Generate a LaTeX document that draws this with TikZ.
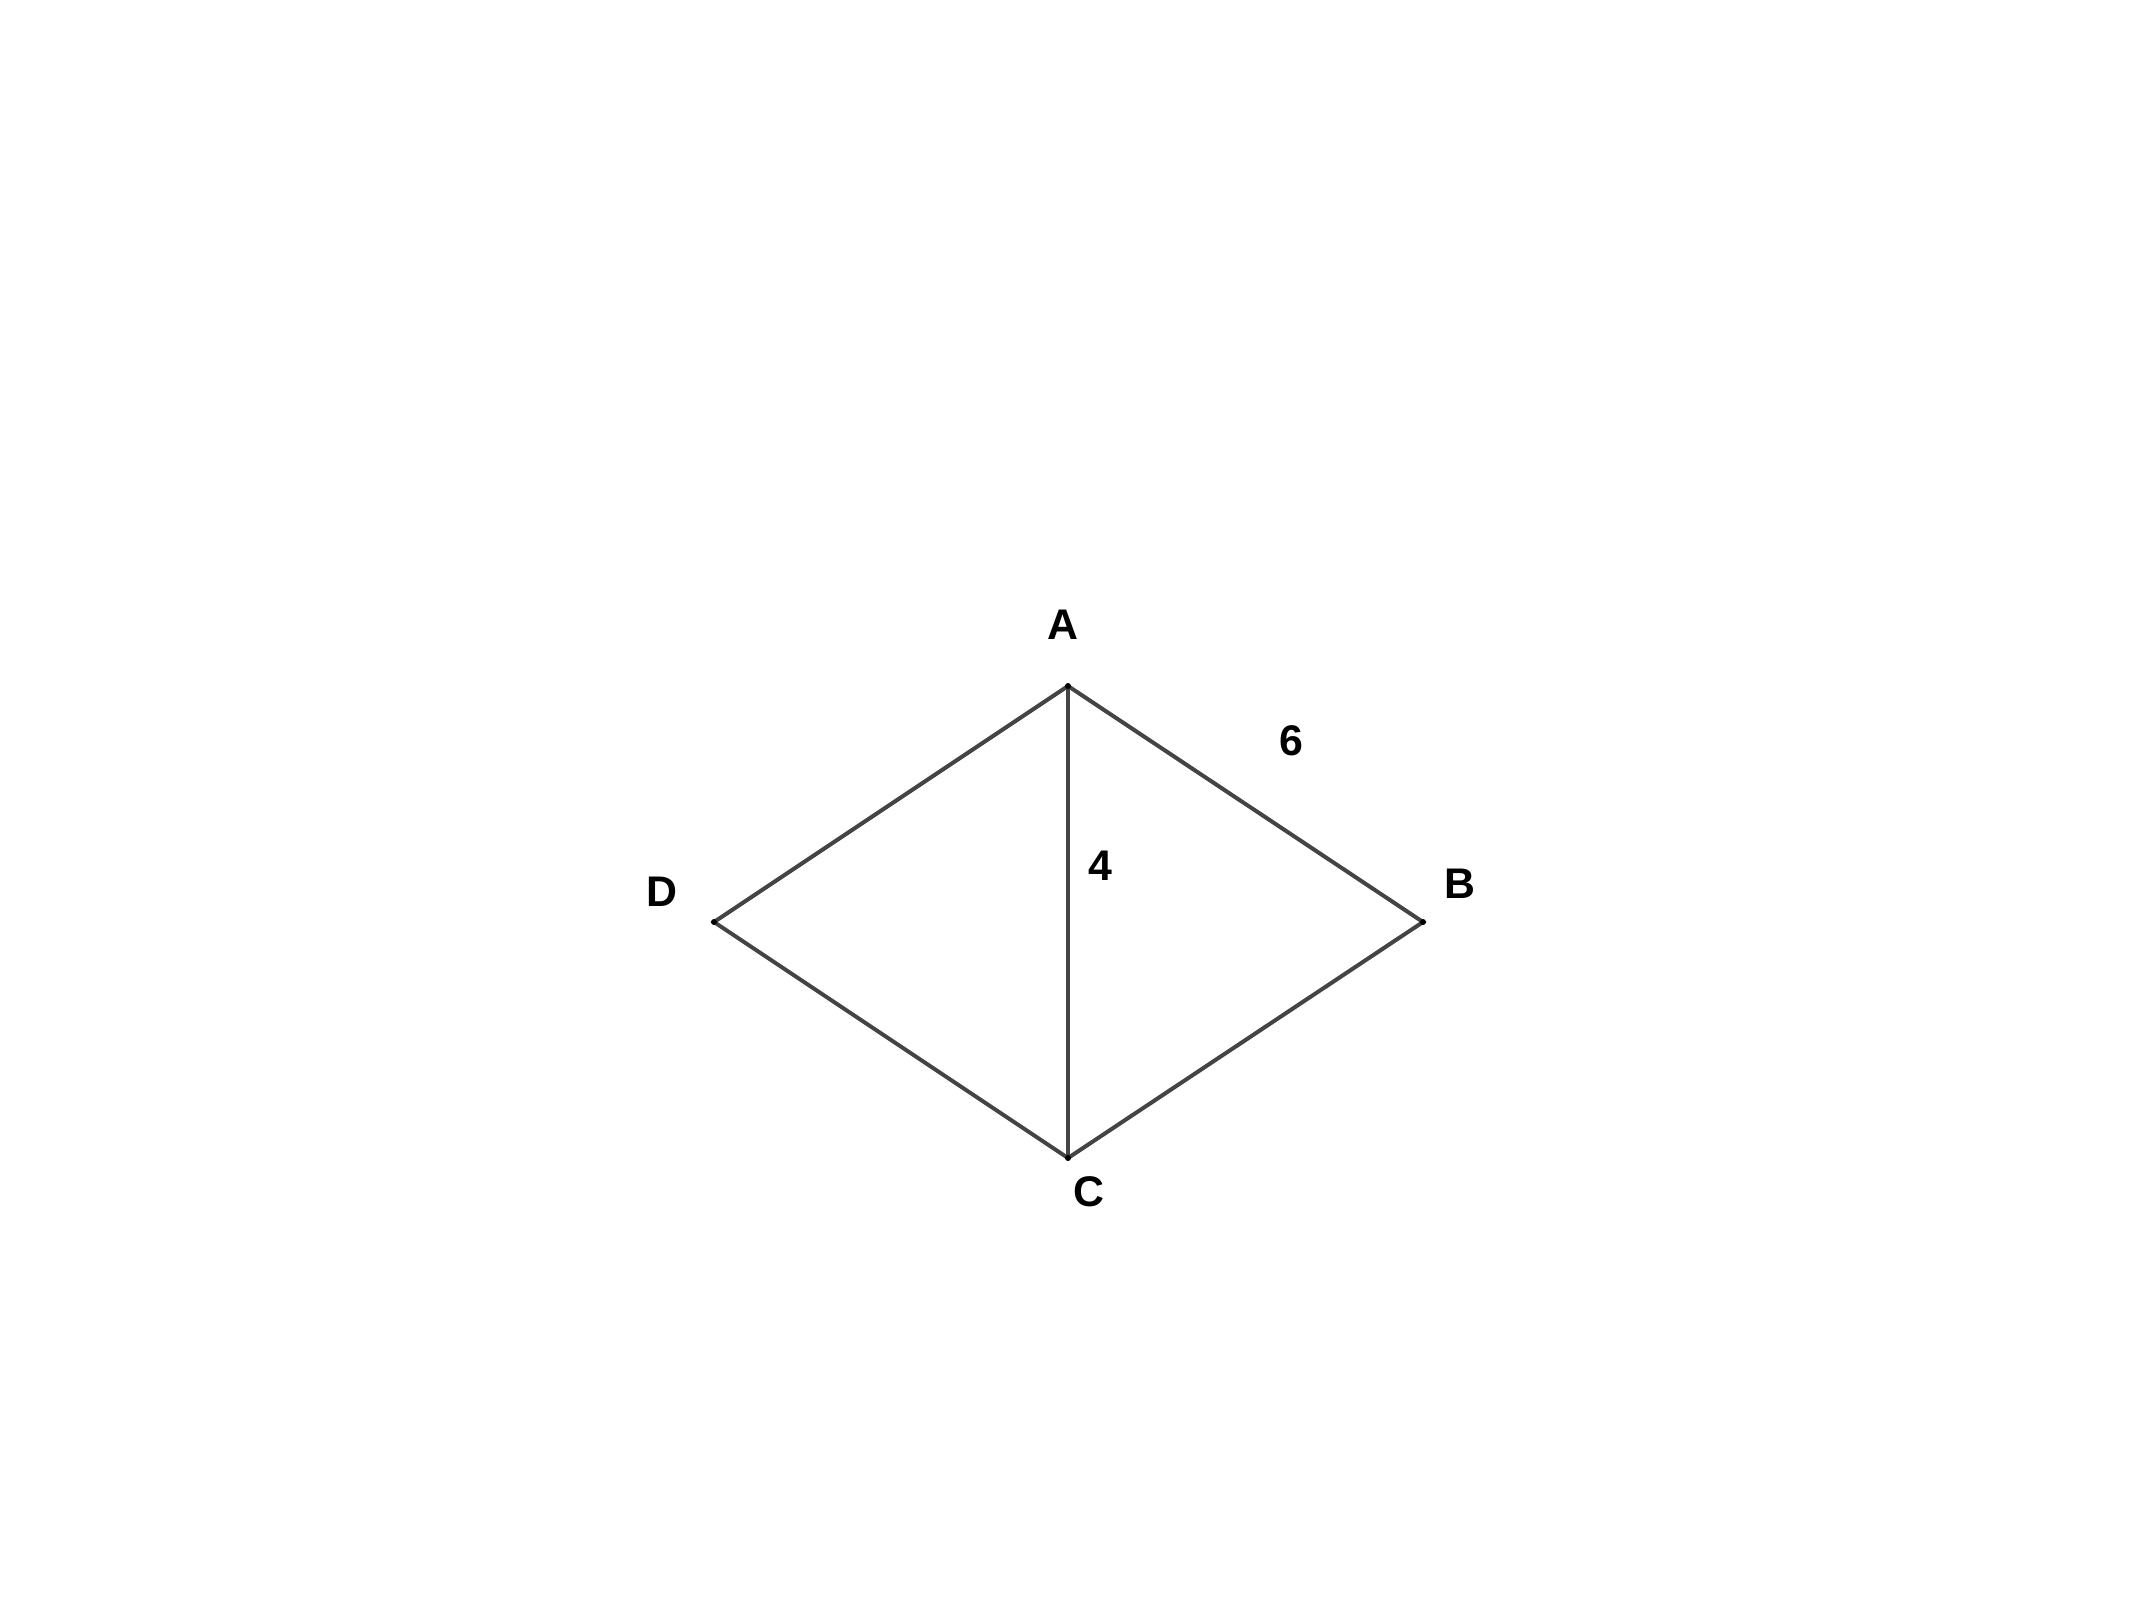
\documentclass[tikz,border=0pt]{standalone}
\usepackage{fontspec}
\setmainfont{Liberation Sans}
\definecolor{edgegray}{HTML}{444444}
\begin{document}
\begin{tikzpicture}[x=0.5bp,y=-0.5bp,
  edge/.style={draw=edgegray,line width=2bp},
  lbl/.style={font=\fontsize{21.5}{24}\selectfont\bfseries,inner sep=0pt},
  dot/.style={fill=black,circle,inner sep=0pt,minimum size=3bp}]
\useasboundingbox[fill=white] (0,0) rectangle (2129,1622);
\coordinate (A) at (1068,686);
\coordinate (B) at (1423,922);
\coordinate (C) at (1068,1158);
\coordinate (D) at (714,922);
\draw[edge] (A) -- (B) -- (C) -- (D) -- cycle;
\draw[edge] (A) -- (C);
\foreach \p in {A,B,C,D} \node[dot] at (\p) {};
\node[lbl] (lA) at (1063,625) {A};
\node[lbl] (lB) at (1460,884) {B};
\node[lbl] (lC) at (1089,1192) {C};
\node[lbl] (lD) at (662,892) {D};
\node[lbl] (l6) at (1291,741) {6};
\node[lbl] (l4) at (1100,866) {4};
\end{tikzpicture}
\end{document}
